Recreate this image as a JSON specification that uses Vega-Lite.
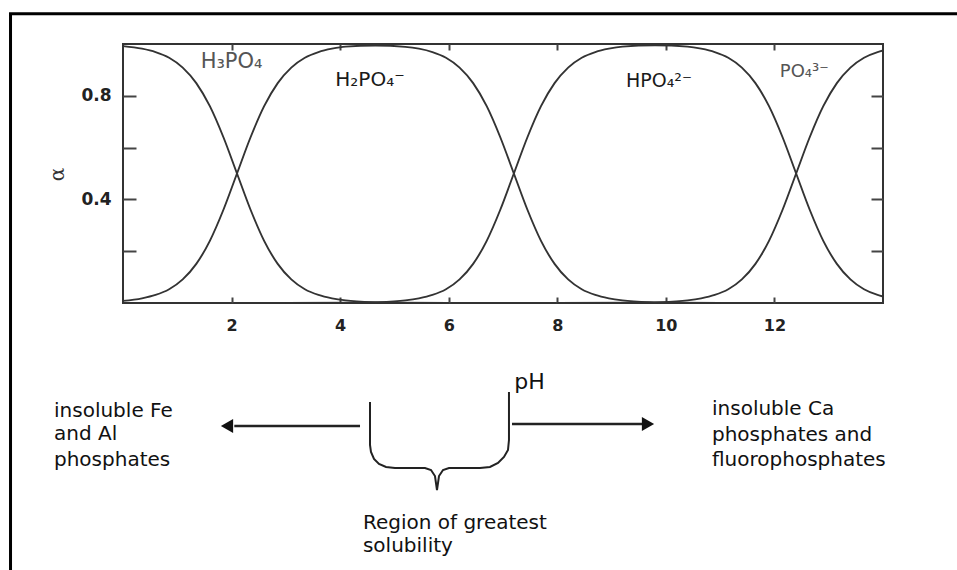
{
  "$schema": "https://vega.github.io/schema/vega-lite/v6.json",
  "width": 760,
  "height": 259,
  "autosize": {"type": "none"},
  "padding": {"left": 123, "top": 44, "right": 74, "bottom": 267},
  "background": "white",
  "config": {"view": {"stroke": "#333", "strokeWidth": 2}, "font": "DejaVu Sans"},
  "resolve": {"axis": {"x": "independent", "y": "independent"}},
  "datasets": {
    "frame": [{"x1": -2.072, "x2": 15.6, "y1": 1.117, "y2": -1.1}],
    "curves": [
      {"pH": 0, "a": 0.992, "s": "H3PO4"}, {"pH": 0.35, "a": 0.982, "s": "H3PO4"}, {"pH": 0.6, "a": 0.969, "s": "H3PO4"}, {"pH": 0.85, "a": 0.947, "s": "H3PO4"}, {"pH": 1.1, "a": 0.909, "s": "H3PO4"}, {"pH": 1.35, "a": 0.849, "s": "H3PO4"}, {"pH": 1.6, "a": 0.76, "s": "H3PO4"}, {"pH": 1.85, "a": 0.64, "s": "H3PO4"}, {"pH": 2.1, "a": 0.5, "s": "H3PO4"}, {"pH": 2.35, "a": 0.36, "s": "H3PO4"}, {"pH": 2.6, "a": 0.24, "s": "H3PO4"}, {"pH": 2.85, "a": 0.151, "s": "H3PO4"}, {"pH": 3.1, "a": 0.091, "s": "H3PO4"}, {"pH": 3.35, "a": 0.053, "s": "H3PO4"}, {"pH": 3.6, "a": 0.031, "s": "H3PO4"}, {"pH": 3.85, "a": 0.018, "s": "H3PO4"}, {"pH": 4.1, "a": 0.01, "s": "H3PO4"}, {"pH": 4.6, "a": 0.003, "s": "H3PO4"}, {"pH": 5.1, "a": 0.001, "s": "H3PO4"}, {"pH": 6, "a": 0, "s": "H3PO4"},
      {"pH": 0, "a": 0.008, "s": "H2PO4"}, {"pH": 0.35, "a": 0.018, "s": "H2PO4"}, {"pH": 0.6, "a": 0.031, "s": "H2PO4"}, {"pH": 0.85, "a": 0.053, "s": "H2PO4"}, {"pH": 1.1, "a": 0.091, "s": "H2PO4"}, {"pH": 1.35, "a": 0.151, "s": "H2PO4"}, {"pH": 1.6, "a": 0.24, "s": "H2PO4"}, {"pH": 1.85, "a": 0.36, "s": "H2PO4"}, {"pH": 2.1, "a": 0.5, "s": "H2PO4"}, {"pH": 2.35, "a": 0.64, "s": "H2PO4"}, {"pH": 2.6, "a": 0.76, "s": "H2PO4"}, {"pH": 2.85, "a": 0.849, "s": "H2PO4"}, {"pH": 3.1, "a": 0.909, "s": "H2PO4"}, {"pH": 3.35, "a": 0.947, "s": "H2PO4"}, {"pH": 3.6, "a": 0.969, "s": "H2PO4"}, {"pH": 3.85, "a": 0.982, "s": "H2PO4"}, {"pH": 4.1, "a": 0.99, "s": "H2PO4"}, {"pH": 4.65, "a": 0.994, "s": "H2PO4"}, {"pH": 5.2, "a": 0.989, "s": "H2PO4"}, {"pH": 5.45, "a": 0.982, "s": "H2PO4"}, {"pH": 5.7, "a": 0.969, "s": "H2PO4"}, {"pH": 5.95, "a": 0.947, "s": "H2PO4"}, {"pH": 6.2, "a": 0.909, "s": "H2PO4"}, {"pH": 6.45, "a": 0.849, "s": "H2PO4"}, {"pH": 6.7, "a": 0.76, "s": "H2PO4"}, {"pH": 6.95, "a": 0.64, "s": "H2PO4"}, {"pH": 7.2, "a": 0.5, "s": "H2PO4"}, {"pH": 7.45, "a": 0.36, "s": "H2PO4"}, {"pH": 7.7, "a": 0.24, "s": "H2PO4"}, {"pH": 7.95, "a": 0.151, "s": "H2PO4"}, {"pH": 8.2, "a": 0.091, "s": "H2PO4"}, {"pH": 8.45, "a": 0.053, "s": "H2PO4"}, {"pH": 8.7, "a": 0.031, "s": "H2PO4"}, {"pH": 8.95, "a": 0.018, "s": "H2PO4"}, {"pH": 9.2, "a": 0.01, "s": "H2PO4"}, {"pH": 9.7, "a": 0.003, "s": "H2PO4"}, {"pH": 10.2, "a": 0.001, "s": "H2PO4"}, {"pH": 11, "a": 0, "s": "H2PO4"},
      {"pH": 3, "a": 0, "s": "HPO4"}, {"pH": 4.2, "a": 0.001, "s": "HPO4"}, {"pH": 4.7, "a": 0.003, "s": "HPO4"}, {"pH": 5.2, "a": 0.01, "s": "HPO4"}, {"pH": 5.45, "a": 0.018, "s": "HPO4"}, {"pH": 5.7, "a": 0.031, "s": "HPO4"}, {"pH": 5.95, "a": 0.053, "s": "HPO4"}, {"pH": 6.2, "a": 0.091, "s": "HPO4"}, {"pH": 6.45, "a": 0.151, "s": "HPO4"}, {"pH": 6.7, "a": 0.24, "s": "HPO4"}, {"pH": 6.95, "a": 0.36, "s": "HPO4"}, {"pH": 7.2, "a": 0.5, "s": "HPO4"}, {"pH": 7.45, "a": 0.64, "s": "HPO4"}, {"pH": 7.7, "a": 0.76, "s": "HPO4"}, {"pH": 7.95, "a": 0.849, "s": "HPO4"}, {"pH": 8.2, "a": 0.909, "s": "HPO4"}, {"pH": 8.45, "a": 0.947, "s": "HPO4"}, {"pH": 8.7, "a": 0.969, "s": "HPO4"}, {"pH": 8.95, "a": 0.982, "s": "HPO4"}, {"pH": 9.2, "a": 0.99, "s": "HPO4"}, {"pH": 9.8, "a": 0.995, "s": "HPO4"}, {"pH": 10.4, "a": 0.99, "s": "HPO4"}, {"pH": 10.65, "a": 0.982, "s": "HPO4"}, {"pH": 10.9, "a": 0.969, "s": "HPO4"}, {"pH": 11.15, "a": 0.947, "s": "HPO4"}, {"pH": 11.4, "a": 0.909, "s": "HPO4"}, {"pH": 11.65, "a": 0.849, "s": "HPO4"}, {"pH": 11.9, "a": 0.76, "s": "HPO4"}, {"pH": 12.15, "a": 0.64, "s": "HPO4"}, {"pH": 12.4, "a": 0.5, "s": "HPO4"}, {"pH": 12.65, "a": 0.36, "s": "HPO4"}, {"pH": 12.9, "a": 0.24, "s": "HPO4"}, {"pH": 13.15, "a": 0.151, "s": "HPO4"}, {"pH": 13.4, "a": 0.091, "s": "HPO4"}, {"pH": 13.65, "a": 0.053, "s": "HPO4"}, {"pH": 13.9, "a": 0.031, "s": "HPO4"}, {"pH": 14, "a": 0.025, "s": "HPO4"},
      {"pH": 8, "a": 0, "s": "PO4"}, {"pH": 9.4, "a": 0.001, "s": "PO4"}, {"pH": 9.9, "a": 0.003, "s": "PO4"}, {"pH": 10.4, "a": 0.01, "s": "PO4"}, {"pH": 10.65, "a": 0.018, "s": "PO4"}, {"pH": 10.9, "a": 0.031, "s": "PO4"}, {"pH": 11.15, "a": 0.053, "s": "PO4"}, {"pH": 11.4, "a": 0.091, "s": "PO4"}, {"pH": 11.65, "a": 0.151, "s": "PO4"}, {"pH": 11.9, "a": 0.24, "s": "PO4"}, {"pH": 12.15, "a": 0.36, "s": "PO4"}, {"pH": 12.4, "a": 0.5, "s": "PO4"}, {"pH": 12.65, "a": 0.64, "s": "PO4"}, {"pH": 12.9, "a": 0.76, "s": "PO4"}, {"pH": 13.15, "a": 0.849, "s": "PO4"}, {"pH": 13.4, "a": 0.909, "s": "PO4"}, {"pH": 13.65, "a": 0.947, "s": "PO4"}, {"pH": 13.9, "a": 0.969, "s": "PO4"}, {"pH": 14, "a": 0.975, "s": "PO4"}
    ],
    "species": [
      {"pH": 2.0, "a": 0.93, "t": "H₃PO₄"},
      {"pH": 4.55, "a": 0.861, "t": "H₂PO₄⁻"},
      {"pH": 9.873, "a": 0.857, "t": "HPO₄²⁻"},
      {"pH": 12.55, "a": 0.892, "t": "PO₄³⁻"}
    ],
    "notes": [
      {"x": -1.271, "y": -0.417, "t": "insoluble Fe"},
      {"x": -1.271, "y": -0.506, "t": "and Al"},
      {"x": -1.271, "y": -0.606, "t": "phosphates"},
      {"x": 10.85, "y": -0.409, "t": "insoluble Ca"},
      {"x": 10.85, "y": -0.51, "t": "phosphates and"},
      {"x": 10.85, "y": -0.606, "t": "fluorophosphates"},
      {"x": 4.42, "y": -0.849, "t": "Region of greatest"},
      {"x": 4.42, "y": -0.938, "t": "solubility"}
    ],
    "shafts": [
      {"x1": 4.366, "x2": 2.05, "y1": -0.475, "y2": -0.475},
      {"x1": 7.166, "x2": 9.6, "y1": -0.467, "y2": -0.467}
    ],
    "heads": [
      {"x": 1.916, "y": -0.475, "dir": "left"},
      {"x": 9.671, "y": -0.467, "dir": "right"}
    ],
    "brace": [
      {"i": 1, "x": 4.55, "y": -0.3822}, {"i": 2, "x": 4.55, "y": -0.5483}, {"i": 3, "x": 4.568, "y": -0.5753}, {"i": 4, "x": 4.624, "y": -0.6023}, {"i": 5, "x": 4.716, "y": -0.6216}, {"i": 6, "x": 4.845, "y": -0.6332}, {"i": 7, "x": 5.01, "y": -0.6371}, {"i": 8, "x": 5.563, "y": -0.6371}, {"i": 9, "x": 5.674, "y": -0.6448}, {"i": 10, "x": 5.747, "y": -0.668}, {"i": 11, "x": 5.784, "y": -0.722}, {"i": 12, "x": 5.821, "y": -0.668}, {"i": 13, "x": 5.895, "y": -0.6448}, {"i": 14, "x": 6.005, "y": -0.6371}, {"i": 15, "x": 6.576, "y": -0.6371}, {"i": 16, "x": 6.76, "y": -0.6332}, {"i": 17, "x": 6.908, "y": -0.6178}, {"i": 18, "x": 7.018, "y": -0.5946}, {"i": 19, "x": 7.092, "y": -0.5676}, {"i": 20, "x": 7.11, "y": -0.529}, {"i": 21, "x": 7.11, "y": -0.3436}
    ]
  },
  "layer": [
    {
      "data": {"name": "frame"},
      "mark": {"type": "rect", "fill": "transparent", "stroke": "#000", "strokeWidth": 3, "clip": false},
      "encoding": {
        "x": {"field": "x1", "type": "quantitative", "axis": null, "scale": {"domain": [0, 14], "nice": false, "zero": false}},
        "x2": {"field": "x2"},
        "y": {"field": "y1", "type": "quantitative", "axis": null, "scale": {"domain": [0, 1], "nice": false, "zero": false}},
        "y2": {"field": "y2"}
      }
    },
    {
      "data": {"name": "curves"},
      "mark": {"type": "line", "interpolate": "monotone", "color": "#333", "strokeWidth": 1.9},
      "encoding": {
        "x": {"field": "pH", "type": "quantitative", "scale": {"domain": [0, 14], "nice": false, "zero": false},
          "axis": {"orient": "bottom", "values": [2, 4, 6, 8, 10, 12], "tickSize": -6, "tickWidth": 2, "tickColor": "#444", "domain": false, "grid": false,
            "labelFont": "DejaVu Sans", "labelFontWeight": "bold", "labelFontSize": 16, "labelColor": "#222", "labelPadding": 20,
            "title": "pH", "titleFont": "DejaVu Sans", "titleFontSize": 22, "titleFontWeight": "normal", "titleColor": "#111",
            "titleX": 406, "titleY": 78, "titleBaseline": "middle", "titleAlign": "center"}},
        "y": {"field": "a", "type": "quantitative", "scale": {"domain": [0, 1], "nice": false, "zero": false},
          "axis": {"orient": "left", "values": [0.2, 0.4, 0.6, 0.8], "tickSize": -13, "tickWidth": 2, "tickColor": "#444", "domain": false, "grid": false,
            "labelExpr": "datum.value == 0.4 || datum.value == 0.8 ? datum.label : ''",
            "labelFont": "DejaVu Sans", "labelFontWeight": "bold", "labelFontSize": 17, "labelColor": "#222", "labelPadding": 25,
            "title": "α", "titleFont": "DejaVu Serif", "titleFontSize": 20, "titleFontWeight": "normal", "titleColor": "#333",
            "titleX": -66, "titleY": 130, "titleAngle": -90, "titleBaseline": "middle", "titleAlign": "center"}},
        "detail": {"field": "s"}
      }
    },
    {
      "data": {"name": "species"},
      "mark": {"type": "text", "align": "center", "baseline": "middle", "clip": false},
      "encoding": {
        "x": {"field": "pH", "type": "quantitative", "scale": {"domain": [0, 14], "nice": false, "zero": false},
          "axis": {"orient": "top", "values": [2, 4, 6, 8, 10, 12], "tickSize": -6, "tickWidth": 2, "tickColor": "#444", "domain": false, "grid": false, "labels": false, "title": null}},
        "y": {"field": "a", "type": "quantitative", "scale": {"domain": [0, 1], "nice": false, "zero": false},
          "axis": {"orient": "right", "values": [0.2, 0.4, 0.6, 0.8], "tickSize": -12, "tickWidth": 2, "tickColor": "#444", "domain": false, "grid": false, "labels": false, "title": null}},
        "text": {"field": "t"},
        "size": {"field": "t", "type": "nominal", "legend": null,
          "scale": {"domain": ["H₃PO₄", "H₂PO₄⁻", "HPO₄²⁻", "PO₄³⁻"], "range": [21, 18, 18, 20]}},
        "color": {"field": "t", "type": "nominal", "legend": null,
          "scale": {"domain": ["H₃PO₄", "H₂PO₄⁻", "HPO₄²⁻", "PO₄³⁻"], "range": ["#555555", "#1a1a1a", "#1a1a1a", "#555555"]}}
      }
    },
    {
      "data": {"name": "notes"},
      "mark": {"type": "text", "fontSize": 20, "align": "left", "baseline": "middle", "color": "#111", "clip": false},
      "encoding": {
        "x": {"field": "x", "type": "quantitative", "axis": null, "scale": {"domain": [0, 14], "nice": false, "zero": false}},
        "y": {"field": "y", "type": "quantitative", "axis": null, "scale": {"domain": [0, 1], "nice": false, "zero": false}},
        "text": {"field": "t"}
      }
    },
    {
      "data": {"name": "shafts"},
      "mark": {"type": "rule", "color": "#222", "strokeWidth": 2.5, "clip": false},
      "encoding": {
        "x": {"field": "x1", "type": "quantitative", "axis": null, "scale": {"domain": [0, 14], "nice": false, "zero": false}},
        "x2": {"field": "x2"},
        "y": {"field": "y1", "type": "quantitative", "axis": null, "scale": {"domain": [0, 1], "nice": false, "zero": false}},
        "y2": {"field": "y2"}
      }
    },
    {
      "data": {"name": "heads"},
      "mark": {"type": "point", "filled": true, "size": 200, "color": "#111", "opacity": 1, "clip": false},
      "encoding": {
        "x": {"field": "x", "type": "quantitative", "axis": null, "scale": {"domain": [0, 14], "nice": false, "zero": false}},
        "y": {"field": "y", "type": "quantitative", "axis": null, "scale": {"domain": [0, 1], "nice": false, "zero": false}},
        "shape": {"field": "dir", "type": "nominal", "legend": null, "scale": {"domain": ["left", "right"], "range": ["triangle-left", "triangle-right"]}}
      }
    },
    {
      "data": {"name": "brace"},
      "mark": {"type": "line", "interpolate": "linear", "color": "#222", "strokeWidth": 2, "clip": false},
      "encoding": {
        "x": {"field": "x", "type": "quantitative", "axis": null, "scale": {"domain": [0, 14], "nice": false, "zero": false}},
        "y": {"field": "y", "type": "quantitative", "axis": null, "scale": {"domain": [0, 1], "nice": false, "zero": false}},
        "order": {"field": "i", "type": "quantitative"}
      }
    }
  ]
}
